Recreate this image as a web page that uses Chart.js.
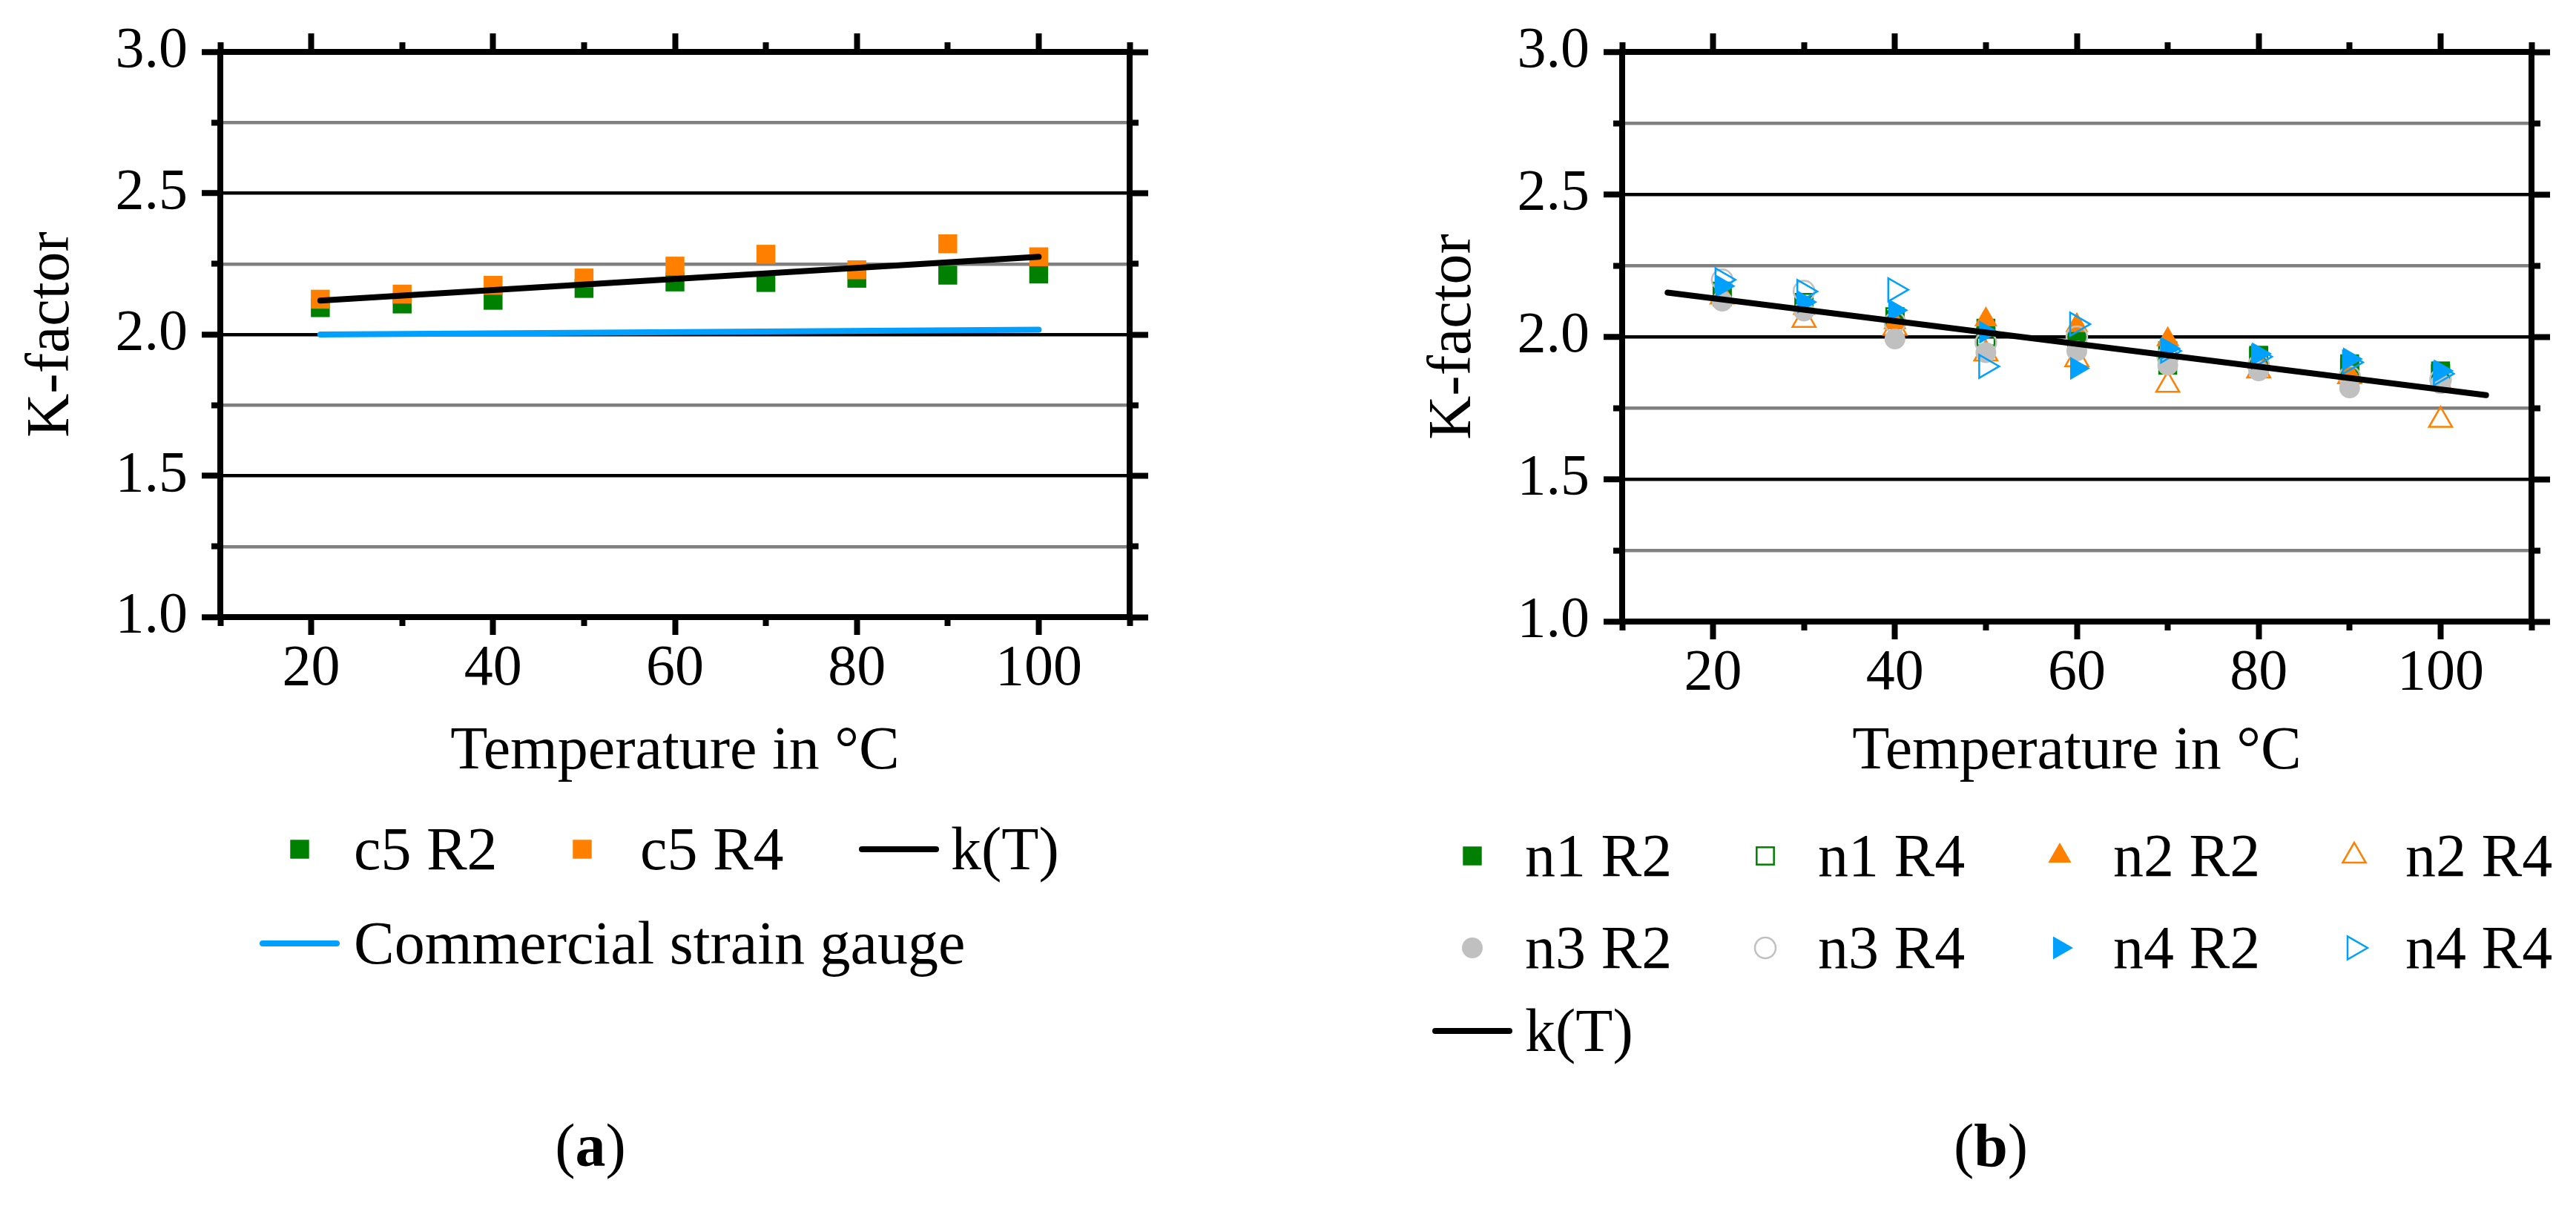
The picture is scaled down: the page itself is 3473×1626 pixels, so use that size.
<!DOCTYPE html>
<html>
<head>
<meta charset="utf-8">
<title>K-factor vs temperature</title>
<script src="https://cdn.jsdelivr.net/npm/chart.js@4.4.1/dist/chart.umd.min.js"></script>
<style>
  body { margin: 0; background: #fff; width: 3473px; height: 1626px; position: relative; overflow: hidden;
         font-family: "Liberation Serif", serif; color: #000; }
  .panel { position: absolute; top: 0; width: 1583px; height: 1080px; }
  .lg { position: absolute; font-size: 82px; line-height: 1; white-space: nowrap; transform: translateY(-50%); }
  .sym { position: absolute; transform: translate(-50%, -50%); line-height: 0; }
  .cap { position: absolute; font-size: 82px; line-height: 1; transform: translate(-50%, -50%); }
</style>
</head>
<body>
<div class="panel" style="left:0"><canvas id="chartA" width="1583" height="1080"></canvas></div>
<div class="panel" style="left:1890px"><canvas id="chartB" width="1583" height="1080"></canvas></div>
<div id="legendA"></div>
<div id="legendB"></div>
<div class="cap" style="left:796px;top:1545px">(<b>a</b>)</div>
<div class="cap" style="left:2684px;top:1545px">(<b>b</b>)</div>
<script>
// temperatures of the measurements (°C)
const temps = [21, 30, 40, 50, 60, 70, 80, 90, 100];
const xLabels = [20, 40, 60, 80, 100];
const yLabels = [1.0, 1.5, 2.0, 2.5, 3.0];

// (a) sample c5
const c5R2 = [2.095, 2.108, 2.121, 2.163, 2.186, 2.184, 2.199, 2.210, 2.214];
const c5R4 = [2.125, 2.143, 2.174, 2.200, 2.242, 2.284, 2.229, 2.321, 2.275];
const fitA_T = [21, 100];
const fitA_K = [2.120, 2.275];
const gauge_T = [21, 100];
const gauge_K = [2.000, 2.017];

// (b) samples n1..n4
const n1R2 = [2.140, 2.110, 2.060, 2.030, 1.990, 1.900, 1.935, 1.905, 1.880];
const n1R4 = [2.160, 2.120, 2.070, 2.000, 1.980, 1.950, 1.930, 1.890, 1.870];
const n2R2 = [2.150, 2.100, 2.050, 2.060, 2.040, 1.990, 1.910, 1.870, 1.840];
const n2R4 = [2.140, 2.058, 2.030, 1.940, 1.920, 1.830, 1.880, 1.860, 1.707];
const n3R2 = [2.125, 2.090, 1.992, 1.944, 1.950, 1.900, 1.880, 1.820, 1.835];
const n3R4 = [2.200, 2.160, 2.050, 1.980, 2.000, 1.930, 1.900, 1.860, 1.850];
const n4R2 = [2.178, 2.122, 2.093, 2.016, 1.889, 1.959, 1.940, 1.922, 1.880];
const n4R4 = [2.200, 2.159, 2.165, 1.896, 2.044, 1.950, 1.930, 1.910, 1.870];
const fitB_T = [15, 105];
const fitB_K = [2.155, 1.795];

const GREEN = '#008000', ORANGE = '#FF8000', GREY = '#C0C0C0', BLUE = '#00A0FF', NONE = 'rgba(0,0,0,0)';
const TITLE_FONT = { size: 82 };

Chart.defaults.font.family = '"Liberation Serif", serif';
Chart.defaults.font.size = 78;
Chart.defaults.color = '#000';

const pts = (xs, ys) => xs.map((x, i) => ({ x, y: ys[i] }));
const isMajorX = v => xLabels.includes(v);
const isMajorY = v => yLabels.some(l => Math.abs(l - v) < 1e-9);

function markerDataset(label, data, style, color, open, order) {
  const radius = style === 'circle' ? 14 : (open && style === 'rect' ? 16.5 : 18);
  return {
    label, data: pts(temps, data), order,
    pointStyle: style === 'triR' ? 'triangle' : style,
    pointRotation: style === 'triR' ? 90 : 0,
    pointRadius: radius,
    pointBackgroundColor: open ? NONE : color,
    pointBorderColor: color,
    pointBorderWidth: open ? 2.5 : 0,
    showLine: false,
    _legend: { style, color, open }
  };
}

function lineDataset(label, xs, ys, color, order) {
  return {
    label, data: pts(xs, ys), order,
    showLine: true, borderColor: color, borderWidth: 8, borderCapStyle: 'round',
    pointRadius: 0, fill: false,
    _legend: { style: 'line', color }
  };
}

// outward tick marks, long ones on labelled values, short ones in between
function tickGrid(len, major, test) {
  return {
    drawOnChartArea: false, tickLength: len, tickWidth: 8,
    tickColor: c => test(c.tick.value) === major ? '#000' : NONE
  };
}

function makeScales(bottomH) {
  const xb = { type: 'linear', min: 10, max: 110 };
  const yb = { type: 'linear', min: 1, max: 3 };
  const hidden = step => ({ stepSize: step, display: false, autoSkip: false });
  const size = (prop, v) => s => { s[prop] = v; };
  return {
    x: { ...xb, position: 'bottom', weight: 1, afterFit: size('height', bottomH),
      grid: tickGrid(24, true, isMajorX), border: { color: '#000', width: 8 },
      ticks: { stepSize: 10, autoSkip: false, maxRotation: 0, padding: 0,
        callback: v => isMajorX(v) ? String(v) : '' },
      title: { display: true, text: 'Temperature in °C', font: TITLE_FONT, padding: { top: 0, bottom: 16 } } },
    xMinor: { ...xb, position: 'bottom', weight: 0, afterFit: size('height', 0),
      grid: tickGrid(12, false, isMajorX), border: { display: false }, ticks: hidden(10) },
    xTop: { ...xb, position: 'top', weight: 1, afterFit: size('height', 70),
      grid: tickGrid(25, true, isMajorX), border: { color: '#000', width: 8 }, ticks: hidden(10) },
    xTopMinor: { ...xb, position: 'top', weight: 0, afterFit: size('height', 0),
      grid: tickGrid(13, false, isMajorX), border: { display: false }, ticks: hidden(10) },
    y: { ...yb, position: 'left', weight: 1, afterFit: size('width', 297),
      grid: { drawOnChartArea: true, lineWidth: 4.5, tickLength: 25, tickWidth: 8,
        color: c => isMajorY(c.tick.value) ? '#000' : '#808080',
        tickColor: c => isMajorY(c.tick.value) ? '#000' : NONE },
      border: { color: '#000', width: 8 },
      ticks: { stepSize: 0.25, autoSkip: false, padding: 19,
        callback: v => isMajorY(v) ? v.toFixed(1) : '' },
      title: { display: true, text: 'K-factor', font: TITLE_FONT, padding: { top: 21, bottom: 0 } } },
    yMinor: { ...yb, position: 'left', weight: 0, afterFit: size('width', 0),
      grid: tickGrid(12, false, isMajorY), border: { display: false }, ticks: hidden(0.25) },
    yRight: { ...yb, position: 'right', weight: 1, afterFit: size('width', 60),
      grid: tickGrid(25, true, isMajorY), border: { color: '#000', width: 8 }, ticks: hidden(0.25) },
    yRightMinor: { ...yb, position: 'right', weight: 0, afterFit: size('width', 0),
      grid: tickGrid(12, false, isMajorY), border: { display: false }, ticks: hidden(0.25) }
  };
}

function makeChart(id, datasets, bottomH) {
  return new Chart(document.getElementById(id), {
    type: 'scatter',
    data: { datasets },
    options: {
      responsive: false, animation: false, events: [],
      layout: { padding: 0 },
      plugins: { legend: { display: false }, tooltip: { enabled: false } },
      scales: makeScales(bottomH)
    }
  });
}

const dsA = [
  markerDataset('c5 R2', c5R2, 'rect', GREEN, false, 3),
  markerDataset('c5 R4', c5R4, 'rect', ORANGE, false, 2),
  lineDataset('k(T)', fitA_T, fitA_K, '#000', 0),
  lineDataset('Commercial strain gauge', gauge_T, gauge_K, BLUE, 1)
];

const dsB = [
  markerDataset('n1 R2', n1R2, 'rect', GREEN, false, 8),
  markerDataset('n1 R4', n1R4, 'rect', GREEN, true, 7),
  markerDataset('n2 R2', n2R2, 'triangle', ORANGE, false, 6),
  markerDataset('n2 R4', n2R4, 'triangle', ORANGE, true, 5),
  markerDataset('n3 R2', n3R2, 'circle', GREY, false, 4),
  markerDataset('n3 R4', n3R4, 'circle', GREY, true, 3),
  markerDataset('n4 R2', n4R2, 'triR', BLUE, false, 2),
  markerDataset('n4 R4', n4R4, 'triR', BLUE, true, 1),
  lineDataset('k(T)', fitB_T, fitB_K, '#000', 0)
];

makeChart('chartA', dsA, 248);
makeChart('chartB', dsB, 242);

// legend symbols, same shapes and sizes as the plotted points
function symbolSvg(m) {
  if (m.style === 'line') {
    return `<svg width="112" height="12"><line x1="6" y1="6" x2="106" y2="6" stroke="${m.color}" stroke-width="8" stroke-linecap="round"/></svg>`;
  }
  const c = 22;
  const fill = m.open ? 'none' : m.color;
  const stroke = m.open ? `stroke="${m.color}" stroke-width="2.5"` : '';
  let shape;
  if (m.style === 'rect') {
    const s = (m.open ? 16.5 : 18) * Math.SQRT2;
    shape = `<rect x="${c - s / 2}" y="${c - s / 2}" width="${s}" height="${s}" fill="${fill}" ${stroke}/>`;
  } else if (m.style === 'circle') {
    shape = `<circle cx="${c}" cy="${c}" r="14" fill="${fill}" ${stroke}/>`;
  } else {
    const r = 18, a = m.style === 'triR' ? Math.PI / 2 : 0;
    const p = [0, 1, 2].map(k => {
      const t = a + k * 2 * Math.PI / 3;
      return `${c + Math.sin(t) * r},${c - Math.cos(t) * r}`;
    }).join(' ');
    shape = `<polygon points="${p}" fill="${fill}" ${stroke}/>`;
  }
  return `<svg width="44" height="44">${shape}</svg>`;
}

function buildLegend(el, datasets, places) {
  datasets.forEach((ds, i) => {
    const [mx, tx, y] = places[i];
    el.insertAdjacentHTML('beforeend',
      `<div class="sym" style="left:${mx}px;top:${y}px">${symbolSvg(ds._legend)}</div>` +
      `<div class="lg" style="left:${tx}px;top:${y}px">${ds.label}</div>`);
  });
}

buildLegend(document.getElementById('legendA'), dsA, [
  [404, 477, 1145], [785, 863, 1145], [1212, 1282, 1145], [404, 477, 1272]
]);

const colMx = [1985, 2380, 2777, 3174], colTx = [2056, 2451, 2849, 3243], rowY = [1154, 1278, 1390];
const placesB = dsB.slice(0, 8).map((d, i) => [colMx[i % 4], colTx[i % 4], rowY[Math.floor(i / 4)]]);
placesB.push([1985, 2056, rowY[2]]);
buildLegend(document.getElementById('legendB'), dsB, placesB);
</script>
</body>
</html>
